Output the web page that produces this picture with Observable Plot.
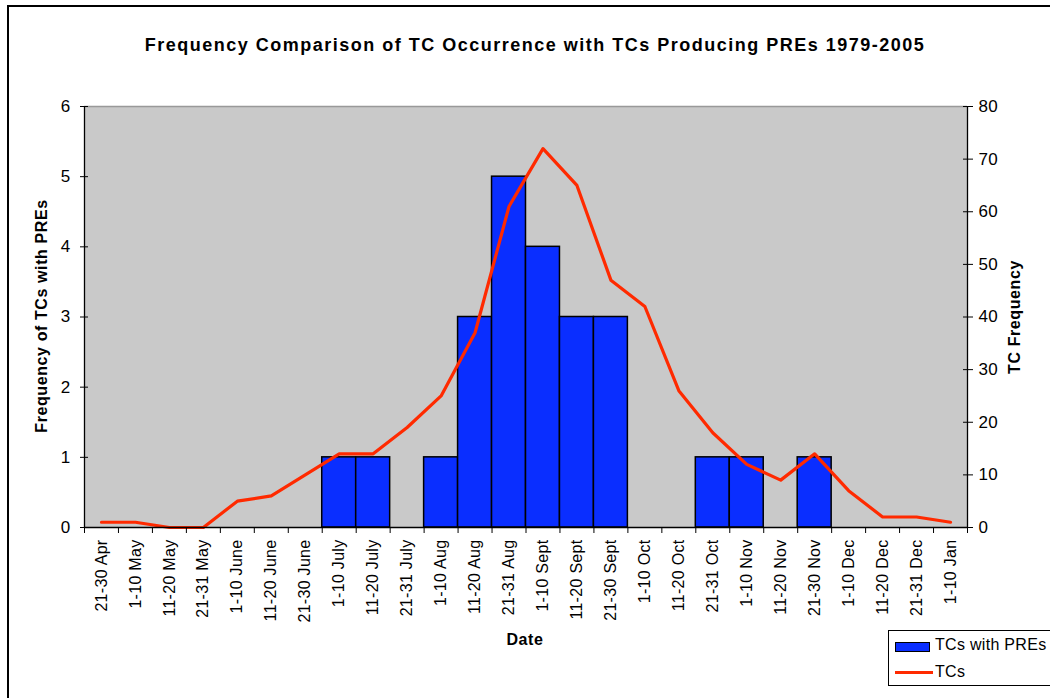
<!DOCTYPE html>
<html>
<head>
<meta charset="utf-8">
<script src="https://cdn.jsdelivr.net/npm/d3@7"></script>
<script src="https://cdn.jsdelivr.net/npm/@observablehq/plot@0.6"></script>
<style>
  html, body { margin: 0; padding: 0; background: #fff; overflow: hidden; }
  #wrap { position: relative; width: 1050px; height: 698px; overflow: hidden; font-family: "Liberation Sans", Arial, sans-serif; }
  #chart { position: absolute; left: 0; top: 0; }
  #chart svg text { letter-spacing: 0.3px; }
  .abs { position: absolute; white-space: nowrap; color: #000; }
  #border { position: absolute; left: 7px; top: 5px; width: 1200px; height: 900px; border: 2px solid #000; box-sizing: border-box; }
  #title { font-weight: bold; font-size: 18px; letter-spacing: 1.5px; left: 535px; top: 45px; transform: translate(-50%, -50%); }
  .ytitle { font-weight: bold; font-size: 16px; letter-spacing: 0.6px; transform: translate(-50%, -50%) rotate(-90deg); }
  #legend { position: absolute; left: 888px; top: 630px; width: 200px; height: 56px; border: 1.5px solid #000; box-sizing: border-box; background: #fff; font-size: 16px; letter-spacing: 0.3px; }
</style>
</head>
<body>
<div id="wrap">
  <div id="border"></div>
  <div id="chart"></div>
  <div id="title" class="abs">Frequency Comparison of TC Occurrence with TCs Producing PREs 1979-2005</div>
  <div class="abs ytitle" style="left:42px; top:316px;">Frequency of TCs with PREs</div>
  <div class="abs ytitle" style="left:1015px; top:317px;">TC Frequency</div>
  <div class="abs" style="left:525px; top:640px; transform: translate(-50%, -50%); font-weight:bold; font-size:16px; letter-spacing:0.6px;">Date</div>
  <div id="legend">
    <div class="abs" style="left:6px; top:11px; width:35px; height:10px; background:#0a2eff; border:1.5px solid #000; box-sizing:border-box;"></div>
    <div class="abs" style="left:46px; top:5px;">TCs with PREs</div>
    <div class="abs" style="left:6px; top:40px; width:38px; height:3px; background:#ff2a00;"></div>
    <div class="abs" style="left:46px; top:32px;">TCs</div>
  </div>
</div>
<script>
const categories = ["21-30 Apr","1-10 May","11-20 May","21-31 May","1-10 June","11-20 June","21-30 June",
  "1-10 July","11-20 July","21-31 July","1-10 Aug","11-20 Aug","21-31 Aug","1-10 Sept","11-20 Sept",
  "21-30 Sept","1-10 Oct","11-20 Oct","21-31 Oct","1-10 Nov","11-20 Nov","21-30 Nov","1-10 Dec",
  "11-20 Dec","21-31 Dec","1-10 Jan"];
const tcsWithPREs = [0,0,0,0,0,0,0,1,1,0,1,3,5,4,3,3,0,0,1,1,0,1,0,0,0,0];
const tcs = [1,1,0,0,5,6,10,14,14,19,25,37,61,72,65,47,42,26,18,12,9,14,7,2,2,1];
const leftTicks = [0,1,2,3,4,5,6];
const rightTicks = [0,10,20,30,40,50,60,70,80];
const leftMax = 6, rightMax = 80;

const data = categories.map((c, i) => ({i, c, pre: tcsWithPREs[i], tc: tcs[i]}));
const toLeft = v => v * leftMax / rightMax;

const chart = Plot.plot({
  width: 1050,
  height: 698,
  marginLeft: 84,
  marginRight: 83,
  marginTop: 106,
  marginBottom: 171,
  style: {fontFamily: "'Liberation Sans', Arial, sans-serif", fontSize: "16px", background: "transparent", color: "#000"},
  x: {domain: [0, categories.length]},
  y: {domain: [0, leftMax]},
  marks: [
    Plot.frame({fill: "#c9c9c9", stroke: null}),
    Plot.ruleY([leftMax], {stroke: "#999", strokeWidth: 1.5}),
    Plot.rectY(data.filter(d => d.pre > 0), {x1: d => d.i, x2: d => d.i + 1, y: "pre", fill: "#0a2eff", stroke: "#000", strokeWidth: 1.5}),
    Plot.line(data, {x: d => d.i + 0.5, y: d => toLeft(d.tc), stroke: "#ff2a00", strokeWidth: 3.2}),
    Plot.ruleX([0, categories.length], {stroke: "#000", strokeWidth: 1.3}),
    Plot.ruleY([0], {stroke: "#000", strokeWidth: 1.3}),
    Plot.axisY({anchor: "left", ticks: leftTicks, tickSize: 8, dx: 4, tickFormat: () => "", label: null, stroke: "#000"}),
    Plot.axisY({anchor: "left", ticks: leftTicks, tickSize: 0, tickPadding: 14, tickFormat: d => String(d), label: null, fontSize: 17, fill: "#000"}),
    Plot.axisY({anchor: "right", ticks: rightTicks.map(toLeft), tickSize: 10, dx: -5, tickFormat: () => "", label: null, stroke: "#000"}),
    Plot.axisY({anchor: "right", ticks: rightTicks.map(toLeft), tickSize: 0, tickPadding: 11, tickFormat: d => String(Math.round(d * rightMax / leftMax)), label: null, fontSize: 17, fill: "#000"}),
    Plot.axisX({ticks: d3.range(categories.length + 1), tickSize: 6, tickFormat: () => "", label: null, stroke: "#000"}),
    Plot.axisX({ticks: d3.range(categories.length).map(i => i + 0.5), tickSize: 0, tickPadding: 12, tickRotate: -90, tickFormat: d => categories[Math.floor(d)], label: null, fontSize: 16, fill: "#000"})
  ]
});
document.getElementById("chart").appendChild(chart);
</script>
</body>
</html>
